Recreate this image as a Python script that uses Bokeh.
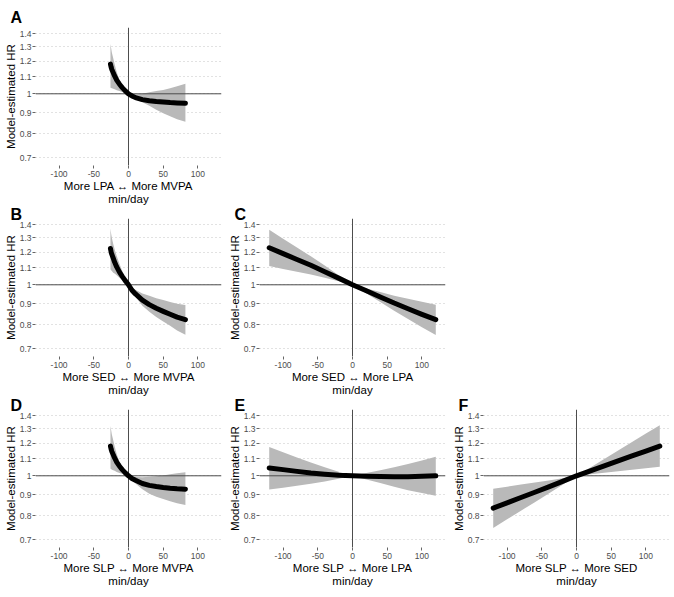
from bokeh.plotting import figure
from bokeh.layouts import column, row
from bokeh.models import Range1d, FixedTicker, CustomJSTickFormatter, Span, Title
from bokeh.embed import file_html
from bokeh.resources import INLINE

# ---------------- data ----------------
x_ticks = [-100, -50, 0, 50, 100]
y_ticks = [0.7, 0.8, 0.9, 1.0, 1.1, 1.2, 1.3, 1.4]

# substitutions involving MVPA (min/day)
x_mvpa = [-26, -25, -24, -22, -20, -17, -13, -9, -5, 0, 5, 10, 20, 30, 40, 50, 60, 70, 82]

A_hr = [1.18, 1.16, 1.145, 1.125, 1.105, 1.08, 1.055, 1.035, 1.018, 1.0, 0.988, 0.979, 0.968, 0.962, 0.958, 0.955, 0.952, 0.95, 0.948]
A_lo = [1.035, 1.033, 1.031, 1.028, 1.025, 1.02, 1.015, 1.01, 1.005, 1.0, 0.985, 0.972, 0.954, 0.935, 0.915, 0.897, 0.882, 0.868, 0.855]
A_hi = [1.32, 1.29, 1.26, 1.22, 1.18, 1.13, 1.08, 1.05, 1.025, 1.0, 0.997, 0.996, 1.0, 1.008, 1.015, 1.022, 1.032, 1.043, 1.057]

B_hr = [1.225, 1.2, 1.185, 1.16, 1.135, 1.105, 1.073, 1.048, 1.025, 1.0, 0.97, 0.95, 0.918, 0.895, 0.877, 0.862, 0.848, 0.835, 0.823]
B_lo = [1.09, 1.085, 1.08, 1.07, 1.065, 1.055, 1.04, 1.027, 1.015, 1.0, 0.96, 0.935, 0.89, 0.86, 0.835, 0.815, 0.795, 0.775, 0.757]
B_hi = [1.37, 1.33, 1.30, 1.255, 1.22, 1.175, 1.125, 1.08, 1.04, 1.0, 0.985, 0.972, 0.952, 0.94, 0.928, 0.918, 0.908, 0.9, 0.893]

D_hr = [1.18, 1.16, 1.145, 1.125, 1.105, 1.08, 1.055, 1.035, 1.018, 1.0, 0.985, 0.975, 0.958, 0.948, 0.942, 0.937, 0.933, 0.93, 0.928]
D_lo = [1.04, 1.038, 1.035, 1.031, 1.028, 1.022, 1.016, 1.011, 1.005, 1.0, 0.975, 0.958, 0.928, 0.905, 0.89, 0.879, 0.868, 0.858, 0.849]
D_hi = [1.32, 1.29, 1.26, 1.22, 1.18, 1.13, 1.08, 1.05, 1.025, 1.0, 0.995, 0.993, 0.992, 0.995, 0.998, 1.002, 1.008, 1.014, 1.02]

# substitutions between LPA / SED / SLP (min/day)
x_sub = [-120, -100, -80, -60, -40, -20, 0, 20, 40, 60, 80, 100, 120]

C_hr = [1.23, 1.19, 1.152, 1.115, 1.076, 1.038, 1.0, 0.967, 0.934, 0.903, 0.875, 0.848, 0.823]
C_lo = [1.11, 1.092, 1.076, 1.059, 1.04, 1.02, 1.0, 0.953, 0.908, 0.865, 0.826, 0.789, 0.755]
C_hi = [1.36, 1.293, 1.231, 1.172, 1.113, 1.055, 1.0, 0.98, 0.96, 0.941, 0.925, 0.909, 0.894]

E_hr = [1.045, 1.035, 1.025, 1.016, 1.009, 1.003, 1.0, 0.998, 0.996, 0.995, 0.995, 0.997, 1.0]
E_lo = [0.926, 0.936, 0.946, 0.956, 0.969, 0.983, 1.0, 0.98, 0.96, 0.941, 0.923, 0.908, 0.894]
E_hi = [1.175, 1.141, 1.108, 1.077, 1.049, 1.023, 1.0, 1.016, 1.032, 1.049, 1.068, 1.089, 1.112]

F_hr = [0.835, 0.86, 0.886, 0.912, 0.94, 0.969, 1.0, 1.028, 1.057, 1.087, 1.117, 1.148, 1.18]
F_lo = [0.747, 0.784, 0.823, 0.863, 0.906, 0.951, 1.0, 1.008, 1.017, 1.026, 1.035, 1.043, 1.052]
F_hi = [0.93, 0.941, 0.952, 0.963, 0.974, 0.986, 1.0, 1.048, 1.099, 1.152, 1.208, 1.266, 1.327]

letters = ["A", "B", "C", "D", "E", "F"]
x_titles = ["More LPA \u2194 More MVPA", "More SED \u2194 More MVPA", "More SED \u2194 More LPA",
            "More SLP \u2194 More MVPA", "More SLP \u2194 More LPA", "More SLP \u2194 More SED"]
x_unit = "min/day"
y_title = "Model-estimated HR"

FONT = "Liberation Sans"


def make_panel(letter, xtitle, x, hr, lo, hi, top_border, letter_standoff):
    p = figure(frame_width=186, frame_height=138, y_axis_type="log",
               x_range=Range1d(-134, 134), y_range=Range1d(0.67, 1.448),
               output_backend="svg", toolbar_location=None, title=None,
               min_border_left=35, min_border_right=3,
               min_border_top=top_border, min_border_bottom=42)
    p.outline_line_color = None
    p.background_fill_color = "white"
    p.border_fill_color = "white"

    # axes
    for ax in (p.xaxis[0], p.yaxis[0]):
        ax.axis_line_color = None
        ax.major_tick_out = 3
        ax.major_tick_in = 0
        ax.minor_tick_out = 0
        ax.minor_tick_in = 0
        ax.major_tick_line_color = "#666666"
        ax.major_label_text_font = FONT
        ax.major_label_text_font_size = "8.5px"
        ax.major_label_text_color = "#4d4d4d"
        ax.axis_label_text_font = FONT
        ax.axis_label_text_font_size = "11.5px"
        ax.axis_label_text_font_style = "normal"
        ax.axis_label_text_color = "black"
        ax.axis_label_standoff = 0
    p.xaxis.ticker = FixedTicker(ticks=x_ticks)
    p.yaxis.ticker = FixedTicker(ticks=y_ticks)
    p.xaxis.formatter = CustomJSTickFormatter(code="return Math.round(tick).toString();")
    p.yaxis.formatter = CustomJSTickFormatter(code="return (Math.round(tick*10)/10).toString();")
    p.xaxis.major_label_standoff = 2
    p.yaxis.major_label_standoff = 1
    p.xaxis.axis_label = xtitle + "\n" + x_unit
    p.xaxis.axis_label_text_line_height = 1.1
    p.yaxis.axis_label = y_title

    # grid: horizontal dotted only
    p.xgrid.visible = False
    p.ygrid.grid_line_color = "#c4c4c4"
    p.ygrid.grid_line_dash = "1 3"
    p.ygrid.grid_line_width = 1

    # ribbon, reference lines, estimate
    p.varea(x=x, y1=lo, y2=hi, fill_color="#b9b9b9", fill_alpha=1.0)
    hs = Span(location=1.0, dimension="width", line_color="#4d4d4d", line_width=1, level="glyph")
    vs = Span(location=0, dimension="height", line_color="#4d4d4d", line_width=1, level="glyph")
    p.renderers = p.renderers + [hs, vs]
    p.line(x=x, y=hr, line_color="black", line_width=5, line_cap="round", line_join="round")

    # panel letter
    t = Title(text=letter, align="left", offset=-25, standoff=letter_standoff,
              vertical_align="bottom", text_font=FONT, text_font_size="16px",
              text_font_style="bold", text_color="black")
    p.add_layout(t, "above")
    return p


pA = make_panel(letters[0], x_titles[0], x_mvpa, A_hr, A_lo, A_hi, 27, 4)
pB = make_panel(letters[1], x_titles[1], x_mvpa, B_hr, B_lo, B_hi, 11, -8)
pC = make_panel(letters[2], x_titles[2], x_sub, C_hr, C_lo, C_hi, 11, -8)
pD = make_panel(letters[3], x_titles[3], x_mvpa, D_hr, D_lo, D_hi, 11, -8)
pE = make_panel(letters[4], x_titles[4], x_sub, E_hr, E_lo, E_hi, 11, -8)
pF = make_panel(letters[5], x_titles[5], x_sub, F_hr, F_lo, F_hi, 11, -8)

layout = column(row(pA), row(pB, pC), row(pD, pE, pF))

with open("out.html", "w") as f:
    f.write(file_html(layout, INLINE))
